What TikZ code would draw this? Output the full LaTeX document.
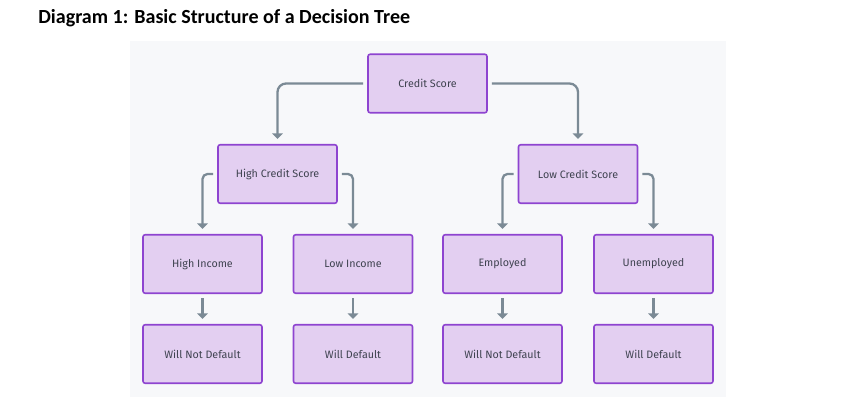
\documentclass[tikz,border=0pt]{standalone}
\usepackage{fontspec}
\setmainfont{Fira Sans}
\newfontfamily\titlefont{Carlito}
\usetikzlibrary{arrows.meta}
\definecolor{boxfill}{HTML}{E3CFF1}
\definecolor{boxline}{HTML}{8E44D0}
\definecolor{edgegray}{HTML}{7B8A95}
\definecolor{panel}{HTML}{F7F8FA}
\definecolor{txt}{HTML}{3F4350}
\tikzset{
  dn/.style={rectangle, draw=boxline, fill=boxfill, line width=0.9pt, rounded corners=1.2pt,
             minimum width=2.38cm, minimum height=1.17cm, inner sep=1pt,
             font=\fontsize{6.1}{7.5}\selectfont, text=txt},
  te/.style={draw=edgegray, line width=1.3pt, -{Triangle[length=1.1mm, width=2.1mm]}},   % tree edge
  leaf/.style={te, shorten <=0.08cm, shorten >=0.1cm},                                  % straight edge
}

\begin{document}
\begin{tikzpicture}[x=0.02cm, y=-0.02cm]
  \useasboundingbox (0,0) rectangle (866,401);
  \fill[panel] (130,41) rectangle (726,397);
  \node[anchor=west, inner sep=0pt, font=\titlefont\bfseries\fontsize{11.4}{13}\selectfont] (title) at (38,18)
    {Diagram 1: Basic Structure of a Decision Tree};
  % ---------------- root and second level ----------------
  \node[dn] (cs)  at (427.5,83.5) {Credit Score};
  \node[dn] (hcs) at (277.5,174)  {High Credit Score};
  \node[dn] (lcs) at (578,174)    {Low Credit Score};
  % ---------------- third level ----------------
  \node[dn] (hi) at (202.5,264) {High Income};
  \node[dn] (li) at (353,264)   {Low Income};
  \node[dn] (em) at (502.5,264) {Employed};
  \node[dn] (un) at (653.5,264) {Unemployed};
  % ---------------- outcomes ----------------
  \node[dn] (o1) at (202.5,354) {Will Not Default};
  \node[dn] (o2) at (353,354)   {Will Default};
  \node[dn] (o3) at (502.5,354) {Will Not Default};
  \node[dn] (o4) at (653.5,354) {Will Default};
  % bent edges leave from the side of the parent
  \draw[te, rounded corners=0.17cm, shorten <=0.08cm, shorten >=0.1cm] (cs.west) -| (hcs.north);
  \draw[te, rounded corners=0.17cm, shorten <=0.08cm, shorten >=0.1cm] (cs.east) -| (lcs.north);
  \foreach \u/\v/\w in {hcs/hi/li, lcs/em/un} {
    \draw[te, rounded corners=0.1cm, shorten <=0.08cm, shorten >=0.1cm] (\u.west) -| (\v.north);
    \draw[te, rounded corners=0.1cm, shorten <=0.08cm, shorten >=0.1cm] (\u.east) -| (\w.north);
  }
  \foreach \u/\v in {hi/o1, li/o2, em/o3, un/o4}
    \draw[leaf] (\u) -- (\v);
\end{tikzpicture}
\end{document}
